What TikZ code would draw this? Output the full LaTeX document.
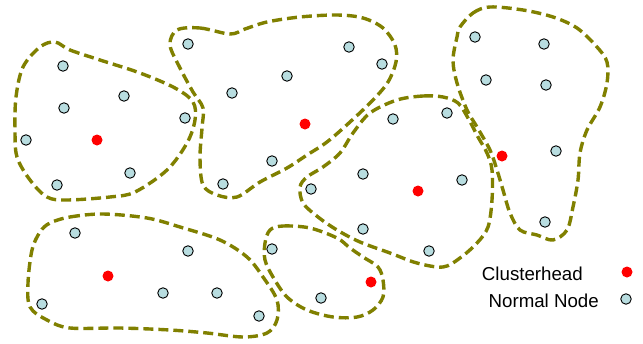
\documentclass[tikz,border=0pt]{standalone}
\usepackage{fontspec}
\setmainfont{Liberation Sans}
\definecolor{olivedash}{RGB}{128,128,0}
\definecolor{nodeblue}{RGB}{184,221,224}
\definecolor{headred}{RGB}{255,0,0}
\begin{document}
\begin{tikzpicture}[x=1pt,y=-1pt,
  normalnode/.style={circle,draw=black,line width=0.9pt,fill=nodeblue,minimum size=10.5pt,inner sep=0pt},
  headnode/.style={circle,fill=headred,minimum size=11pt,inner sep=0pt},
  clusterline/.style={draw=olivedash,line width=3.4pt,dash pattern=on 10pt off 5pt},
  legendtext/.style={inner sep=0pt,font=\fontsize{18.7}{20}\selectfont}]
\useasboundingbox[fill=white] (0,0) rectangle (643,343);
% cluster outlines
\draw[clusterline] plot[smooth cycle,tension=0.55] coordinates {(55,42) (70,50) (100,60) (140,73) (175,88) (193,102) (195,120) (187,143) (167,170) (135,192) (110,197) (67,200) (47,197) (30,180) (17,157) (15,130) (16,97) (23,67) (40,47)};
\draw[clusterline] plot[smooth cycle,tension=0.55] coordinates {(177,30) (200,28) (230,34) (245,29) (267,22) (300,17) (337,15) (363,18) (383,28) (395,45) (396,62) (388,82) (373,100) (350,122) (327,142) (307,155) (287,168) (260,182) (237,197) (217,195) (203,185) (200,158) (202,128) (203,108) (193,92) (180,68) (170,45)};
\draw[clusterline] plot[smooth cycle,tension=0.55] coordinates {(397,100) (423,96) (443,97) (458,103) (468,118) (478,137) (487,153) (492,170) (492,200) (488,227) (477,243) (460,258) (443,267) (417,263) (390,253) (360,242) (337,230) (318,217) (303,203) (300,187) (307,177) (323,167) (340,153) (353,133) (370,113)};
\draw[clusterline] plot[smooth cycle,tension=0.55] coordinates {(460,27) (473,13) (490,7) (523,10) (553,17) (577,28) (597,47) (607,62) (607,83) (600,107) (587,130) (580,153) (578,180) (573,207) (567,230) (553,240) (537,235) (520,230) (510,213) (503,190) (497,170) (490,150) (477,127) (467,110) (457,83) (453,60) (457,37)};
\draw[clusterline] plot[smooth cycle,tension=0.55] coordinates {(50,223) (70,217) (103,214) (147,218) (180,227) (220,240) (247,257) (263,277) (277,300) (277,320) (267,333) (243,337) (207,333) (170,330) (120,328) (70,328) (47,320) (30,307) (28,283) (32,250) (40,232)};
\draw[clusterline] plot[smooth cycle,tension=0.55] coordinates {(270,230) (283,226) (310,228) (337,238) (350,248) (363,257) (378,267) (383,280) (383,297) (373,310) (357,317) (333,317) (307,310) (287,297) (273,277) (265,260) (265,243)};
% cluster 1
\node[headnode] (h1) at (97,140) {};
\node[normalnode] (a1) at (63,66) {};
\node[normalnode] (a2) at (64,108) {};
\node[normalnode] (a3) at (124,96) {};
\node[normalnode] (a4) at (185,118) {};
\node[normalnode] (a5) at (26,140) {};
\node[normalnode] (a6) at (57,185) {};
\node[normalnode] (a7) at (130,173) {};
% cluster 2
\node[headnode] (h2) at (305,124) {};
\node[normalnode] (b1) at (188,44) {};
\node[normalnode] (b2) at (349,47) {};
\node[normalnode] (b3) at (382,64) {};
\node[normalnode] (b4) at (287,76) {};
\node[normalnode] (b5) at (232,93) {};
\node[normalnode] (b6) at (272,161) {};
\node[normalnode] (b7) at (223,184) {};
% cluster 3
\node[headnode] (h3) at (418,191) {};
\node[normalnode] (c1) at (393,119) {};
\node[normalnode] (c2) at (447,113) {};
\node[normalnode] (c3) at (363,174) {};
\node[normalnode] (c4) at (462,180) {};
\node[normalnode] (c5) at (311,189) {};
\node[normalnode] (c6) at (363,229) {};
\node[normalnode] (c7) at (429,251) {};
% cluster 4
\node[headnode] (h4) at (502,156) {};
\node[normalnode] (d1) at (475,37) {};
\node[normalnode] (d2) at (544,44) {};
\node[normalnode] (d3) at (486,80) {};
\node[normalnode] (d4) at (546,85) {};
\node[normalnode] (d5) at (556,151) {};
\node[normalnode] (d6) at (545,222) {};
% cluster 5
\node[headnode] (h5) at (108,276) {};
\node[normalnode] (e1) at (75,233) {};
\node[normalnode] (e2) at (188,251) {};
\node[normalnode] (e3) at (163,293) {};
\node[normalnode] (e4) at (217,293) {};
\node[normalnode] (e5) at (42,304) {};
\node[normalnode] (e6) at (259,316) {};
% cluster 6
\node[headnode] (h6) at (371,282) {};
\node[normalnode] (f1) at (272,249) {};
\node[normalnode] (f2) at (321,298) {};
% legend
\node[legendtext,anchor=base east] (lt1) at (583,280) {Clusterhead};
\node[headnode] (lh) at (627,272) {};
\node[legendtext,anchor=base east] (lt2) at (599,307) {Normal Node};
\node[normalnode] (ln) at (626,299) {};
\end{tikzpicture}
\end{document}
